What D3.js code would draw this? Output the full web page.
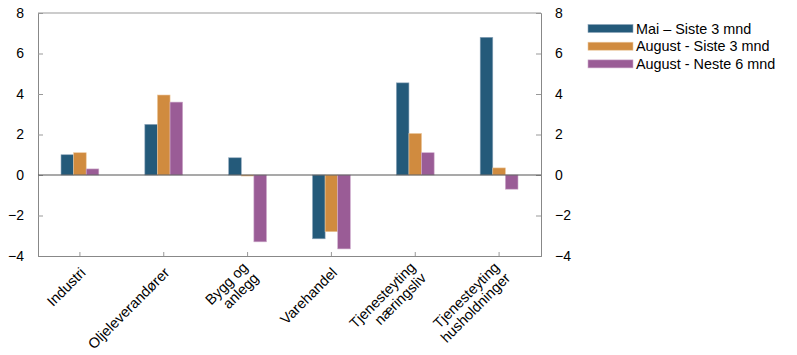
<!DOCTYPE html>
<html><head><meta charset="utf-8">
<script src="https://cdn.jsdelivr.net/npm/d3@7"></script>
<style>body{margin:0;background:#fff;} text{font-family:"Liberation Sans",Arial,sans-serif;}</style>
</head><body>
<svg id="c" width="797" height="355"></svg>
<script>
const categories = [["Industri"],["Oljeleverandører"],["Bygg og","anlegg"],["Varehandel"],["Tjenesteyting","næringsliv"],["Tjenesteyting","husholdninger"]];
const seriesNames = ["Mai \u2013 Siste 3 mnd","August - Siste 3 mnd","August - Neste 6 mnd"];
const maiSiste3 = [1.0, 2.5, 0.85, -3.15, 4.55, 6.8];
const augSiste3 = [1.1, 3.95, -0.05, -2.8, 2.05, 0.35];
const augNeste6 = [0.3, 3.6, -3.3, -3.65, 1.1, -0.7];
const yTicks = [-4,-2,0,2,4,6,8];
const colors = ["#245a7a","#d08b3f","#9a5c96"];
const strokes = ["#8ea6bb","#ecc79c","#cdaacb"];

const series = [maiSiste3, augSiste3, augNeste6];
const svg = d3.select("#c");
const L = 38, R = 541, T = 13, B = 256;
const x = d3.scaleBand().domain(d3.range(categories.length)).range([L,R]).padding(0);
const y = d3.scaleLinear().domain([-4,8]).range([B,T]);
const bw = 12.6;

svg.append("line").attr("x1",L).attr("x2",R).attr("y1",T).attr("y2",T).attr("stroke","#999").attr("stroke-width",1);
const la = svg.append("g").attr("transform",`translate(${L},0)`).call(d3.axisLeft(y).tickValues(yTicks).tickSize(-5).tickPadding(14).tickFormat(d3.format("d")));
const ra = svg.append("g").attr("transform",`translate(${R},0)`).call(d3.axisRight(y).tickValues(yTicks).tickSize(-5).tickPadding(14).tickFormat(d3.format("d")));
[la,ra].forEach(a=>{
  a.select(".domain").attr("stroke","#888");
  a.selectAll(".tick line").attr("stroke","#999");
  a.selectAll(".tick text").attr("font-size",14).attr("fill","#000").attr("font-family","Liberation Sans, Arial, sans-serif");
});
const xa = svg.append("g").attr("transform",`translate(0,${B})`).call(d3.axisBottom(x).tickSize(-4).tickFormat(""));
xa.select(".domain").attr("stroke","#888");
xa.selectAll(".tick line").attr("stroke","#999");

series.forEach((s,si)=>{
  svg.append("g").selectAll("rect").data(s).join("rect")
    .attr("x",(d,i)=>x(i)+x.bandwidth()/2 - 1.5*bw + si*bw)
    .attr("y",d=>y(Math.max(0,d)))
    .attr("width",bw)
    .attr("height",d=>Math.abs(y(d)-y(0)))
    .attr("fill",colors[si]).attr("stroke",strokes[si]).attr("stroke-width",0.6);
});
svg.append("line").attr("x1",L).attr("x2",R).attr("y1",y(0)).attr("y2",y(0)).attr("stroke","#555").attr("stroke-width",1.2);

const cl = svg.append("g");
categories.forEach((lines,i)=>{
  const cx = x(i)+x.bandwidth()/2 + 3;
  const t = cl.append("text").attr("transform",`translate(${cx},270) rotate(-45)`)
    .attr("text-anchor","end").attr("font-size",14.5).attr("fill","#000");
  const n = lines.length;
  lines.forEach((ln,j)=>{
    t.append("tspan").attr("x",0).attr("dy", j===0 ? ((-(n-1)/2)*1.05+0.35)+"em" : "1.05em").text(ln);
  });
});

const lg = svg.append("g");
seriesNames.forEach((nm,i)=>{
  const yy = 28.5 + i*17.7;
  lg.append("rect").attr("x",588).attr("y",yy-4).attr("width",45).attr("height",8).attr("fill",colors[i]).attr("stroke",strokes[i]).attr("stroke-width",0.6);
  lg.append("text").attr("x",636).attr("y",yy).attr("dy","0.35em").attr("font-size",14.4).attr("fill","#000").text(nm);
});
</script>
</body></html>
